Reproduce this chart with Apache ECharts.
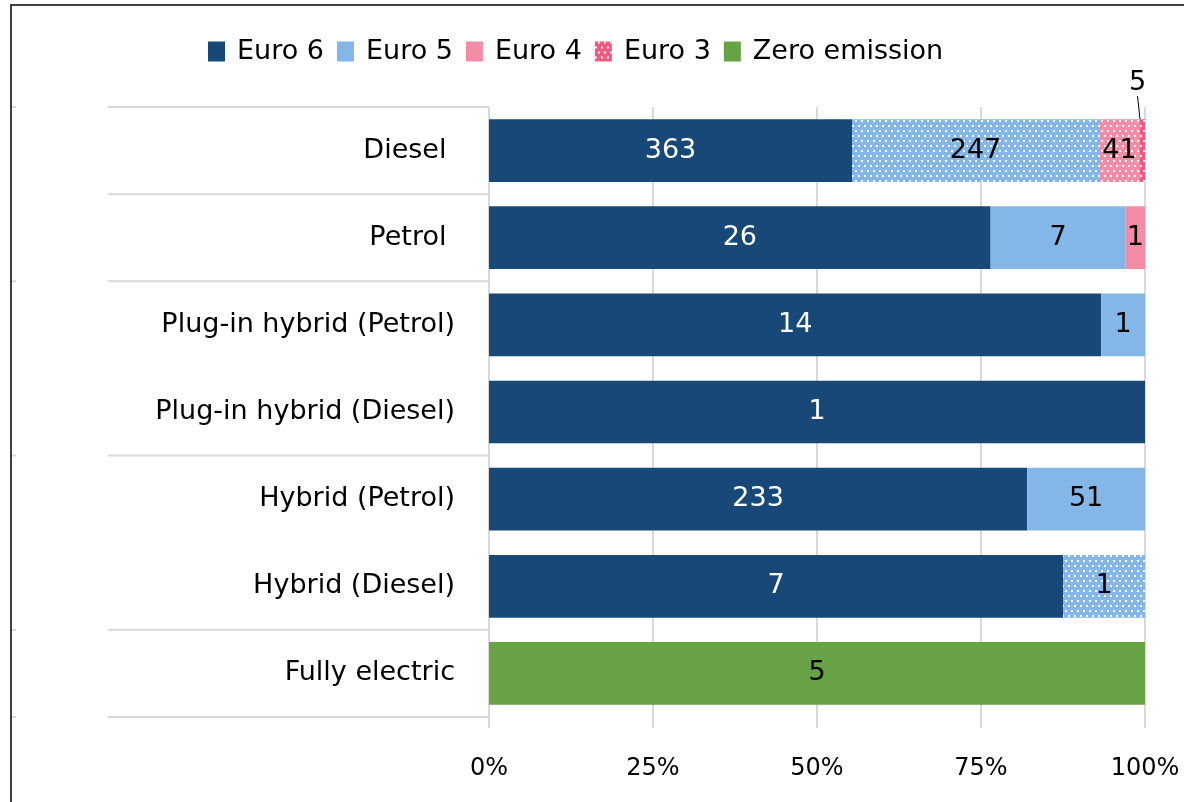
<!DOCTYPE html>
<html>
<head>
<meta charset="utf-8">
<script src="https://cdn.jsdelivr.net/npm/echarts@6/dist/echarts.min.js"></script>
<style>
    html, body { margin: 0; padding: 0; background: #fff; }
    #chart { width: 1184px; height: 802px; }
</style>
</head>
<body>
<div id="chart"></div>
<script>
    // categories, top to bottom (the first two carry a trailing space in the source)
    var categories = ['Diesel ', 'Petrol ', 'Plug-in hybrid (Petrol)', 'Plug-in hybrid (Diesel)', 'Hybrid (Petrol)', 'Hybrid (Diesel)', 'Fully electric'];
    // vehicle counts per emission class
    var euro6 = [363, 26, 14, 1, 233, 7, 0];
    var euro5 = [247, 7, 1, 0, 51, 1, 0];
    var euro4 = [41, 1, 0, 0, 0, 0, 0];
    var euro3 = [5, 0, 0, 0, 0, 0, 0];
    var zeroEmission = [0, 0, 0, 0, 0, 0, 5];
    var xTicks = [0, 25, 50, 75, 100];
    // rows whose older classes are drawn with the dotted fill
    var dottedRows = [true, false, false, false, false, true, false];
    // how many rows each label-table block spans
    var rowGroups = [1, 1, 2, 2, 1];
    var outerGroups = [2, 2, 2, 1];

    var font = 'DejaVu Sans';
    var W = 1184, H = 802;
    var gridLeft = 489, gridRight = 39, gridTop = 107, gridBottom = 85;

    var totals = categories.map(function (c, i) {
        return euro6[i] + euro5[i] + euro4[i] + euro3[i] + zeroEmission[i];
    });

    function dots() {
        return {
            symbol: 'rect',
            symbolSize: 1,
            color: 'rgba(255,255,255,0.95)',
            dashArrayX: [[2, 4], [0, 3, 2, 1]],
            dashArrayY: [2, 2.5]
        };
    }

    function makeSeries(name, values, color, labelColor, dotted) {
        var data = values.map(function (v, i) {
            if (!v) {
                return { value: 0, count: 0, label: { show: false } };
            }
            var item = { value: v / totals[i] * 100, count: v };
            if (dotted && dottedRows[i]) {
                item.itemStyle = { decal: dots() };
            }
            return item;
        });
        return {
            name: name,
            type: 'bar',
            stack: 'total',
            barWidth: '72%',
            itemStyle: { color: color },
            label: {
                show: true,
                position: 'inside',
                color: labelColor,
                fontFamily: font,
                fontSize: 27,
                formatter: function (p) { return p.data.count; }
            },
            emphasis: { disabled: true },
            data: data
        };
    }

    var s6 = makeSeries('Euro 6', euro6, '#174878', '#ffffff', false);
    var s5 = makeSeries('Euro 5', euro5, '#85B6E8', '#000000', true);
    var s4 = makeSeries('Euro 4', euro4, '#F38DA5', '#000000', true);
    var s3 = makeSeries('Euro 3', euro3, '#EE5A80', '#000000', true);
    s3.itemStyle.decal = dots();
    s3.labelLayout = { dx: -5, dy: -68 };
    s3.labelLine = { show: true, lineStyle: { color: '#000', width: 1 } };
    var sZ = makeSeries('Zero emission', zeroEmission, '#67A344', '#000000', false);

    // label table lines and outer frame, from the grid layout
    var band = (H - gridTop - gridBottom) / categories.length;
    var lineStyle = { stroke: '#d9d9d9', lineWidth: 2 };
    var graphics = [];
    var k = 0;
    graphics.push({ type: 'line', shape: { x1: 108, y1: gridTop, x2: gridLeft, y2: gridTop }, style: lineStyle });
    rowGroups.forEach(function (n) {
        k += n;
        var y = gridTop + k * band;
        graphics.push({ type: 'line', shape: { x1: 108, y1: y, x2: gridLeft, y2: y }, style: lineStyle });
    });
    k = 0;
    graphics.push({ type: 'line', shape: { x1: 11, y1: gridTop, x2: 16, y2: gridTop }, style: lineStyle });
    outerGroups.forEach(function (n) {
        k += n;
        var y = gridTop + k * band;
        graphics.push({ type: 'line', shape: { x1: 11, y1: y, x2: 16, y2: y }, style: lineStyle });
    });
    graphics.push({ type: 'rect', shape: { x: 11, y: 5, width: 1300, height: 900 }, style: { fill: 'none', stroke: '#404040', lineWidth: 2 } });

    var option = {
        animation: false,
        backgroundColor: '#fff',
        legend: {
            left: 203,
            top: 33,
            itemWidth: 17,
            itemHeight: 20,
            itemGap: 13,
            icon: 'rect',
            selectedMode: false,
            textStyle: { fontFamily: font, fontSize: 27, color: '#000', padding: [0, 0, 0, 7] },
            data: ['Euro 6', 'Euro 5', 'Euro 4', 'Euro 3', 'Zero emission']
        },
        grid: { left: gridLeft, right: gridRight, top: gridTop, bottom: gridBottom },
        xAxis: {
            type: 'value',
            min: xTicks[0],
            max: xTicks[xTicks.length - 1],
            interval: xTicks[1] - xTicks[0],
            axisLine: { show: false },
            axisTick: { show: true, length: 11, lineStyle: { color: '#d9d9d9', width: 2 } },
            splitLine: { lineStyle: { color: '#d9d9d9', width: 2 } },
            axisLabel: { color: '#000', fontFamily: font, fontSize: 24, margin: 40, formatter: '{value}%' }
        },
        yAxis: {
            type: 'category',
            inverse: true,
            data: categories,
            axisLine: { show: false },
            axisTick: { show: false },
            axisLabel: { color: '#000', fontFamily: font, fontSize: 27, margin: 34 }
        },
        graphic: graphics,
        series: [s6, s5, s4, s3, sZ]
    };

    var chart = echarts.init(document.getElementById('chart'));
    chart.setOption(option);
</script>
</body>
</html>
